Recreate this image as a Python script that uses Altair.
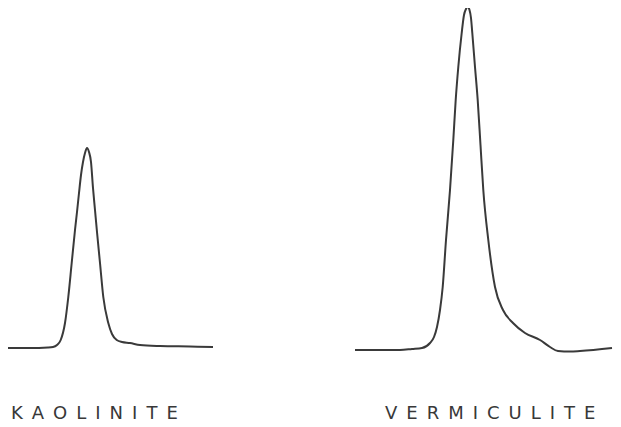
import altair as alt
import pandas as pd

# Kaolinite trace (position, intensity)
kao_x = [8, 30, 48, 53, 57, 60.7, 65, 68.3, 71.7, 75, 77, 79, 81, 83, 85, 87, 89, 91, 93, 95, 97, 100, 103.3, 108.3, 112, 116.7, 122, 130, 140, 160, 190, 213]
kao_y = [2, 2, 2.5, 3, 5, 10, 27, 53, 87, 120, 138, 157, 175, 188, 197, 202, 198, 188, 162, 140, 118, 87, 53, 27, 16, 10, 8, 7, 5, 4, 3.5, 3]

# Vermiculite trace
ver_x = [355, 380, 400, 412, 422, 430, 434, 437, 440, 442.7, 446, 450, 453.3, 455.7, 458.3, 461.7, 464, 466, 467.7, 469.5, 471, 472.3, 475, 477.7, 480.5, 483.3, 488.3, 495, 503, 513, 525, 540, 550, 558, 570, 580, 612]
ver_y = [0, 0, 0, 1, 2, 7, 13, 23, 40, 63, 110, 160, 210, 250, 283, 317, 335, 341, 343, 340, 332, 317, 283, 250, 205, 160, 110, 63, 40, 27, 17, 10, 3, -1, -1.5, -1, 2]

SP = "\u2002"
labels = [SP.join("KAOLINITE"), SP.join("VERMICULITE")]
label_x = [11, 385]
label_y = [-64, -64]

kao = pd.DataFrame({"x": kao_x, "y": kao_y, "mineral": "KAOLINITE"})
ver = pd.DataFrame({"x": ver_x, "y": ver_y, "mineral": "VERMICULITE"})
curves = pd.concat([kao, ver], ignore_index=True)
curves["order"] = range(len(curves))
lab = pd.DataFrame({"x": label_x, "y": label_y, "text": labels})

xs = alt.Scale(domain=[8, 613], nice=False, zero=False)
ys = alt.Scale(domain=[-69, 342], nice=False, zero=False)

lines = alt.Chart(curves).mark_line(color="#3a3a3a", strokeWidth=2, interpolate="monotone", clip=False).encode(
    x=alt.X("x:Q", scale=xs, axis=None),
    y=alt.Y("y:Q", scale=ys, axis=None),
    detail="mineral:N",
    order="order:Q",
)

text = alt.Chart(lab).mark_text(
    align="left", baseline="middle", font="DejaVu Sans", fontSize=18, color="#383838"
).encode(
    x=alt.X("x:Q", scale=xs, axis=None),
    y=alt.Y("y:Q", scale=ys, axis=None),
    text="text:N",
)

chart = (lines + text).properties(
    width=605, height=411, autosize="none",
    padding={"left": 0, "top": 0, "right": 0, "bottom": 8},
).configure(background="white").configure_view(stroke="transparent", strokeWidth=0)

chart.save("out.html", embed_options={"renderer": "svg", "actions": False})
